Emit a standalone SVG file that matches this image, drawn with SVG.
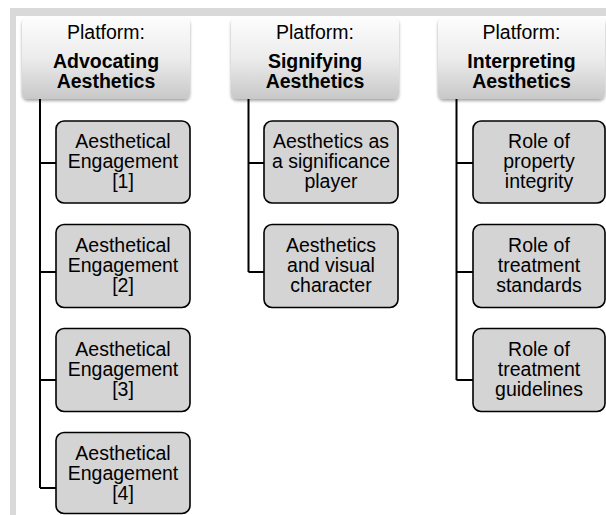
<svg xmlns="http://www.w3.org/2000/svg" width="606" height="515" viewBox="0 0 606 515">
<defs>
<linearGradient id="hg" x1="0" y1="0" x2="0" y2="1">
<stop offset="0" stop-color="#fdfdfd"/>
<stop offset="0.5" stop-color="#ececec"/>
<stop offset="1" stop-color="#c8c8c8"/>
</linearGradient>
<filter id="sh" x="-10%" y="-10%" width="120%" height="130%">
<feDropShadow dx="0" dy="2" stdDeviation="1.8" flood-color="#000" flood-opacity="0.35"/>
</filter>
<style>
.hd{fill:url(#hg);filter:url(#sh)}
.bx{fill:#d4d4d4;stroke:#000;stroke-width:1.6}
.t{font-family:"Liberation Sans",Arial,sans-serif;font-size:19.5px;fill:#000;text-anchor:middle}
.b{font-weight:bold}
.cn{stroke:#000;stroke-width:2;fill:none}
</style>
</defs>
<rect x="10" y="8" width="596" height="507" fill="#d9d9d9"/>
<rect x="16" y="16" width="590" height="499" fill="#fff"/>
<g id="connectors">
<path class="cn" d="M40,99 V488 M40,163 H56 M40,272 H56 M40,380 H56 M40,488 H56"/>
<path class="cn" d="M248.5,99 V272 M248.5,163 H264 M248.5,272 H264"/>
<path class="cn" d="M456.5,99 V380 M456.5,163 H473 M456.5,272 H473 M456.5,380 H473"/>
</g>
<g id="h1">
<rect class="hd" x="22" y="17" width="168" height="82" rx="6"/>
<text class="t" x="106" y="39">Platform:</text>
<text class="t b" x="106" y="68">Advocating</text>
<text class="t b" x="106" y="88">Aesthetics</text>
</g>
<g id="h2">
<rect class="hd" x="231" y="17" width="168" height="82" rx="6"/>
<text class="t" x="315" y="39">Platform:</text>
<text class="t b" x="315" y="68">Signifying</text>
<text class="t b" x="315" y="88">Aesthetics</text>
</g>
<g id="h3">
<rect class="hd" x="438" y="17" width="167" height="82" rx="6"/>
<text class="t" x="521.5" y="39">Platform:</text>
<text class="t b" x="521.5" y="68">Interpreting</text>
<text class="t b" x="521.5" y="88">Aesthetics</text>
</g>
<g id="a1">
<rect class="bx" x="56" y="121" width="134" height="82" rx="8"/>
<text class="t" x="123" y="148">Aesthetical</text>
<text class="t" x="123" y="168">Engagement</text>
<text class="t" x="123" y="188">[1]</text>
</g>
<g id="a2">
<rect class="bx" x="56" y="224.5" width="134" height="83" rx="8"/>
<text class="t" x="123" y="252">Aesthetical</text>
<text class="t" x="123" y="272">Engagement</text>
<text class="t" x="123" y="292">[2]</text>
</g>
<g id="a3">
<rect class="bx" x="56" y="328.5" width="134" height="83" rx="8"/>
<text class="t" x="123" y="356">Aesthetical</text>
<text class="t" x="123" y="376">Engagement</text>
<text class="t" x="123" y="396">[3]</text>
</g>
<g id="a4">
<rect class="bx" x="56" y="432.5" width="134" height="81" rx="8"/>
<text class="t" x="123" y="460">Aesthetical</text>
<text class="t" x="123" y="480">Engagement</text>
<text class="t" x="123" y="500">[4]</text>
</g>
<g id="s1">
<rect class="bx" x="264" y="121" width="134" height="82" rx="8"/>
<text class="t" x="331" y="148">Aesthetics as</text>
<text class="t" x="331" y="168">a significance</text>
<text class="t" x="331" y="188">player</text>
</g>
<g id="s2">
<rect class="bx" x="264" y="224.5" width="134" height="83" rx="8"/>
<text class="t" x="331" y="252">Aesthetics</text>
<text class="t" x="331" y="272">and visual</text>
<text class="t" x="331" y="292">character</text>
</g>
<g id="i1">
<rect class="bx" x="473" y="121" width="132" height="82" rx="8"/>
<text class="t" x="539" y="148">Role of</text>
<text class="t" x="539" y="168">property</text>
<text class="t" x="539" y="188">integrity</text>
</g>
<g id="i2">
<rect class="bx" x="473" y="224.5" width="132" height="83" rx="8"/>
<text class="t" x="539" y="252">Role of</text>
<text class="t" x="539" y="272">treatment</text>
<text class="t" x="539" y="292">standards</text>
</g>
<g id="i3">
<rect class="bx" x="473" y="328.5" width="132" height="83" rx="8"/>
<text class="t" x="539" y="356">Role of</text>
<text class="t" x="539" y="376">treatment</text>
<text class="t" x="539" y="396">guidelines</text>
</g>
</svg>
